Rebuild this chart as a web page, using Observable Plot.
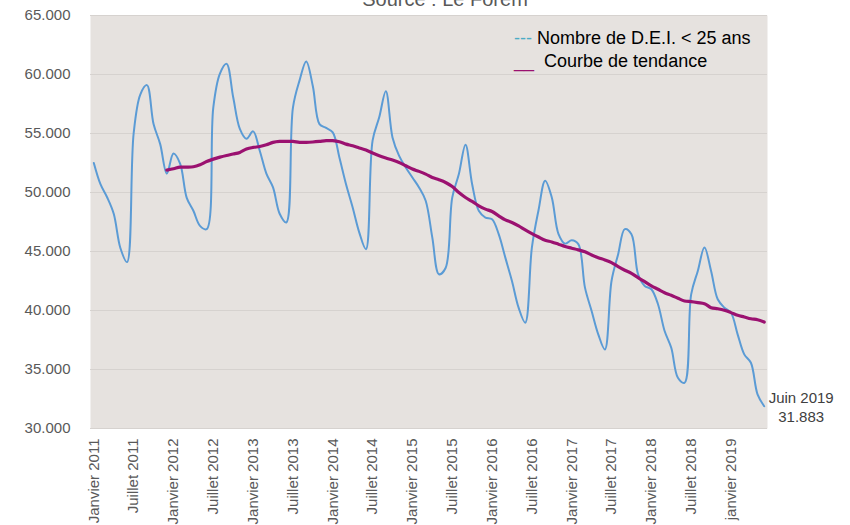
<!DOCTYPE html>
<html><head><meta charset="utf-8">
<script src="https://cdn.jsdelivr.net/npm/d3@7"></script>
<script src="https://cdn.jsdelivr.net/npm/@observablehq/plot@0.6"></script>
<style>
body{margin:0;background:#fff;font-family:"Liberation Sans",Arial,sans-serif;}
#wrap{position:relative;width:850px;height:525px;overflow:hidden;}
#wrap svg{position:absolute;left:0;top:0;}
.title{position:absolute;top:-11px;left:0;width:890px;text-align:center;font-size:20px;line-height:20px;color:#595959}
.legend{position:absolute;left:514px;font-size:18px;line-height:18px;color:#000;white-space:pre}
</style></head>
<body><div id="wrap"></div>
<script>
// Nombre de D.E.I. < 25 ans, monthly, Janvier 2011 .. Juin 2019
const dei = [
  52500, 50700, 49600, 48200, 45300, 44100, 55000, 58300, 59100, 55800, 54100, 51600,
  53300, 52450, 49550, 48450, 47170, 46900, 57200, 60070, 60900, 58070, 55400, 54560,
  55180, 53540, 51600, 50430, 48200, 47460, 57200, 59500, 61100, 59000, 55800, 55470,
  55100, 52970, 50700, 48730, 46600, 45200, 54400, 56370, 58580, 54670, 53100, 52120,
  51270, 50430, 49300, 46180, 43070, 43600, 49570, 51560, 54050, 50700, 48450, 47880,
  47740, 46470, 44480, 42500, 40240, 38970, 45330, 48500, 51000, 49580, 46500, 45670,
  45950, 45620, 41940, 39960, 37980, 36700, 42500, 44770, 46900, 46470, 43070, 42080,
  41800, 40530, 38260, 36840, 34300, 33870, 41370, 43350, 45330, 43350, 40950, 40240,
  39810, 37980, 36280, 35570, 32890, 31883
];
// Courbe de tendance (moyenne mobile), Décembre 2011 .. Juin 2019
const trendStart = 11; // month index of Décembre 2011
const trend = [
  51900, 52010, 52150, 52150, 52180, 52350, 52630, 52830, 53000, 53140, 53260, 53400,
  53680, 53820, 53900, 54050, 54250, 54330, 54330, 54330, 54250, 54250, 54280, 54330,
  54390, 54390, 54300, 54100, 53960, 53770, 53600, 53340, 53110, 52920, 52750, 52550,
  52270, 51990, 51790, 51560, 51270, 51080, 50850, 50510, 50000, 49580, 49240, 48870,
  48590, 48390, 48020, 47680, 47460, 47170, 46830, 46520, 46230, 45950, 45810, 45620,
  45420, 45280, 45140, 44970, 44710, 44480, 44290, 44060, 43720, 43410, 43150, 42780,
  42440, 42080, 41800, 41510, 41290, 41040, 40810, 40750, 40670, 40580, 40240, 40150,
  40020, 39820, 39590, 39450, 39300, 39220, 39020
];
const tickLabels = [
  "Janvier 2011","Juillet 2011","Janvier 2012","Juillet 2012","Janvier 2013","Juillet 2013",
  "Janvier 2014","Juillet 2014","Janvier 2015","Juillet 2015","Janvier 2016","Juillet 2016",
  "Janvier 2017","Juillet 2017","Janvier 2018","Juillet 2018","janvier 2019"
];
const tickStep = 6;
const yTicks = [30000, 35000, 40000, 45000, 50000, 55000, 60000, 65000];
const lastLabel = "Juin 2019";

const fmt = v => d3.format(",.0f")(v).replace(/,/g, ".");
const data = dei.map((v, i) => ({i, v}));
const trendData = trend.map((v, k) => ({i: trendStart + k, v}));
const xTicks = tickLabels.map((_, k) => k * tickStep);

const chart = Plot.plot({
  width: 850, height: 525,
  marginLeft: 90, marginRight: 83, marginTop: 15, marginBottom: 97,
  style: {fontFamily: "'Liberation Sans', Arial, sans-serif", fontSize: "15px", color: "#595959", background: "transparent", overflow: "visible"},
  x: {domain: [-0.5, dei.length - 0.5], ticks: xTicks, tickFormat: d => tickLabels[d / tickStep], tickRotate: -90, tickSize: 0, tickPadding: 10, label: null},
  y: {domain: [30000, 65000], ticks: yTicks, tickFormat: fmt, tickSize: 0, tickPadding: 20, label: null},
  marks: [
    Plot.frame({fill: "#E6E2DF", stroke: null}),
    Plot.gridY(yTicks, {stroke: "#D6D2CF", strokeOpacity: 1}),
    Plot.line(data, {x: "i", y: "v", stroke: "#5B9BD5", strokeWidth: 2, curve: "catmull-rom"}),
    Plot.line(trendData, {x: "i", y: "v", stroke: "#9B1170", strokeWidth: 3.2, curve: "catmull-rom"}),
    Plot.text(data.slice(-1), {x: "i", y: "v", text: d => lastLabel + "\n" + fmt(d.v), dx: 37, fill: "#404040", fontSize: 15, lineHeight: 1.3})
  ]
});
const wrap = document.getElementById("wrap");
wrap.appendChild(chart);
const t = document.createElement("div");
t.className = "title"; t.textContent = "Source : Le Forem";
wrap.appendChild(t);
const l1 = document.createElement("div");
l1.className = "legend"; l1.style.top = "29px";
l1.innerHTML = '<span style="color:#4BACC6">---</span> Nombre de D.E.I. &lt; 25 ans';
wrap.appendChild(l1);
const l2 = document.createElement("div");
l2.className = "legend"; l2.style.top = "52px";
l2.innerHTML = '<span style="color:#9B1170">__</span>  Courbe de tendance';
wrap.appendChild(l2);
</script>
</body></html>
